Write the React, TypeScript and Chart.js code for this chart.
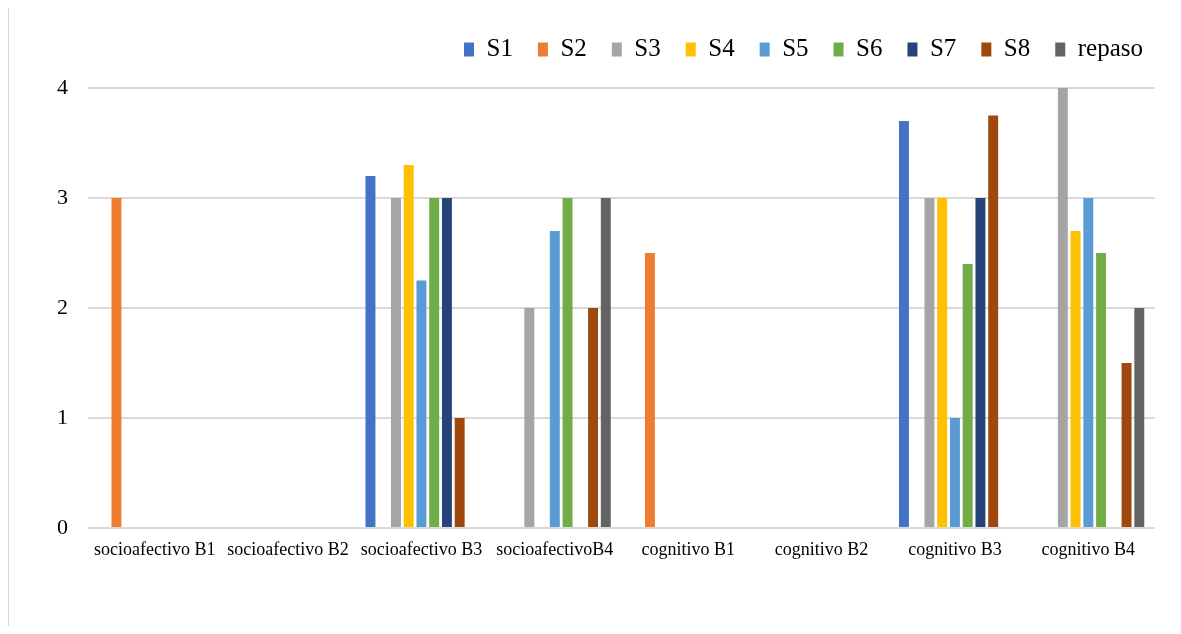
import React, { useEffect, useRef } from "react";
import { Chart, registerables } from "chart.js";

Chart.register(...registerables);

const categories = [
  "socioafectivo B1",
  "socioafectivo B2",
  "socioafectivo B3",
  "socioafectivoB4",
  "cognitivo B1",
  "cognitivo B2",
  "cognitivo B3",
  "cognitivo B4",
];

const seriesNames = ["S1", "S2", "S3", "S4", "S5", "S6", "S7", "S8", "repaso"];

const s1 = [null, null, 3.2, null, null, null, 3.7, null];
const s2 = [3, null, null, null, 2.5, null, null, null];
const s3 = [null, null, 3, 2, null, null, 3, 4];
const s4 = [null, null, 3.3, null, null, null, 3, 2.7];
const s5 = [null, null, 2.25, 2.7, null, null, 1, 3];
const s6 = [null, null, 3, 3, null, null, 2.4, 2.5];
const s7 = [null, null, 3, null, null, null, 3, null];
const s8 = [null, null, 1, 2, null, null, 3.75, 1.5];
const repaso = [null, null, null, 3, null, null, null, 2];

const seriesValues = [s1, s2, s3, s4, s5, s6, s7, s8, repaso];

const seriesColors = [
  "#4472C4",
  "#ED7D31",
  "#A5A5A5",
  "#FFC000",
  "#5B9BD5",
  "#70AD47",
  "#264478",
  "#9E480E",
  "#636363",
];

const yTicks = [0, 1, 2, 3, 4];

const SERIF = "'Liberation Serif', 'Times New Roman', serif";

// Fixes the legend block height so the plot area starts at a set offset,
// and lets the legend row run a little closer to the right edge.
const legendLayoutPlugin = {
  id: "legendLayout",
  beforeInit(chart: any) {
    const legend = chart.legend;
    if (!legend) return;
    const origFit = legend.fit;
    legend.fit = function () {
      origFit.call(this);
      this.height = 76;
    };
  },
  afterLayout(chart: any) {
    if (chart.legend) chart.legend.right += 13;
  },
};

export default function App() {
  const canvasRef = useRef<HTMLCanvasElement | null>(null);

  useEffect(() => {
    const canvas = canvasRef.current;
    if (!canvas) return;
    const chart = new Chart(canvas, {
      type: "bar",
      data: {
        labels: categories,
        datasets: seriesNames.map((name, i) => ({
          label: name,
          data: seriesValues[i] as any,
          backgroundColor: seriesColors[i],
          borderWidth: 0,
          categoryPercentage: 0.86,
          barPercentage: 0.78,
        })),
      },
      plugins: [legendLayoutPlugin],
      options: {
        responsive: false,
        animation: false,
        devicePixelRatio: 1,
        layout: { padding: { top: 4, left: 0, right: 18, bottom: 58 } },
        plugins: {
          tooltip: { enabled: false },
          legend: {
            position: "top",
            align: "end",
            labels: {
              boxWidth: 10,
              boxHeight: 14,
              padding: 25,
              color: "#000",
              font: { family: SERIF, size: 25 },
            },
          },
        },
        scales: {
          x: {
            grid: { display: false, drawTicks: false },
            border: { display: false },
            afterFit(scale: any) {
              scale.height = 40;
            },
            ticks: {
              autoSkip: false,
              maxRotation: 0,
              minRotation: 0,
              padding: 11,
              color: "#000",
              font: { family: SERIF, size: 18 },
            },
          },
          y: {
            min: 0,
            max: 4,
            afterFit(scale: any) {
              scale.width = 80;
            },
            afterBuildTicks(scale: any) {
              scale.ticks = yTicks.map((v) => ({ value: v }));
            },
            grid: { color: "#D9D9D9", lineWidth: 2, drawTicks: false },
            border: { display: false },
            ticks: {
              padding: 20,
              color: "#000",
              font: { family: SERIF, size: 22 },
            },
          },
        },
      },
    });
    return () => chart.destroy();
  }, []);

  return (
    <div style={{ position: "relative", width: 1165, height: 618 }}>
      <div
        style={{
          position: "absolute",
          left: -1,
          top: -5,
          width: 1174,
          height: 631,
          boxSizing: "border-box",
          borderTop: "2px solid #D6D6D6",
          borderLeft: "2px solid #D6D6D6",
        }}
      />
      <canvas
        ref={canvasRef}
        width={1165}
        height={618}
        style={{ position: "absolute", left: 0, top: 0, width: 1165, height: 618 }}
      />
    </div>
  );
}
